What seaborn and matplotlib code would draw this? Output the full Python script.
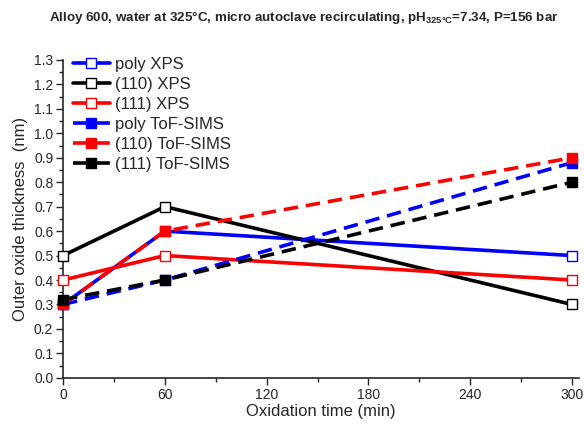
import pandas as pd
import matplotlib
matplotlib.use('Agg')
import matplotlib.pyplot as plt
import seaborn as sns

# Data
times = [0, 60, 300]
series_names = ['poly XPS', '(110) XPS', '(111) XPS',
                'poly ToF-SIMS', '(110) ToF-SIMS', '(111) ToF-SIMS']
poly_xps = [0.30, 0.60, 0.50]
xps_110 = [0.50, 0.70, 0.30]
xps_111 = [0.40, 0.50, 0.40]
poly_tof = [0.30, 0.40, 0.88]
tof_110 = [0.30, 0.60, 0.90]
tof_111 = [0.32, 0.40, 0.80]
colors = ['#0000ff', '#000000', '#ff0000', '#0000ff', '#ff0000', '#000000']
x_ticks = [0, 60, 120, 180, 240, 300]

values = [poly_xps, xps_110, xps_111, poly_tof, tof_110, tof_111]

sns.set_style('ticks')
plt.rcParams['font.family'] = ['Liberation Sans', 'DejaVu Sans']
plt.rcParams['mathtext.fontset'] = 'custom'
plt.rcParams['mathtext.rm'] = 'Liberation Sans'
plt.rcParams['mathtext.bf'] = 'Liberation Sans:bold'

fig = plt.figure(figsize=(5.84, 4.25), dpi=100)
ax = fig.add_axes([0.108, 0.111, 0.883, 0.748])

for name, vals, col in zip(series_names, values, colors):
    df = pd.DataFrame({'t': times, 'v': vals})
    is_xps = 'XPS' in name
    sns.lineplot(data=df, x='t', y='v', ax=ax, color=col, label=name,
                 linewidth=2.6, linestyle='-' if is_xps else (0, (4, 2.2)),
                 marker='s', markersize=6.5, markeredgewidth=1.0,
                 markerfacecolor='white' if is_xps else col,
                 markeredgecolor=col,
                 clip_on=False, zorder=3)

ax.set_xlim(0, 304)
ax.set_ylim(0, 1.3)
ax.set_xticks(x_ticks)
ax.set_xticks(range(30, 300, 60), minor=True)
ax.set_yticks([i / 10 for i in range(14)])
ax.set_yticks([i / 20 for i in range(1, 26, 2)], minor=True)
ax.set_yticklabels([f'{i / 10:.1f}' for i in range(14)])
ax.tick_params(axis='both', which='major', direction='out', length=5, width=1,
               labelsize=10, pad=2)
ax.tick_params(axis='both', which='minor', direction='out', length=3, width=1)
sns.despine(ax=ax)
for s in ['left', 'bottom']:
    ax.spines[s].set_linewidth(1.2)

ax.set_xlabel('Oxidation time (min)', fontsize=12, labelpad=2)
ax.set_ylabel('Outer oxide thickness  (nm)', fontsize=12, labelpad=4)

fig.text(0.52, 0.958,
         r'Alloy 600, water at 325°C, micro autoclave recirculating, pH$_{\mathbf{325°C}}$=7.34, P=156 bar',
         ha='center', va='center', fontsize=9.6, fontweight='bold')

ax.legend(loc='upper left', bbox_to_anchor=(0.0, 1.04), frameon=False,
          fontsize=12, handlelength=2.2, handletextpad=0.3, labelspacing=0.3,
          borderaxespad=0.2)

fig.savefig('out.png', dpi=100)
